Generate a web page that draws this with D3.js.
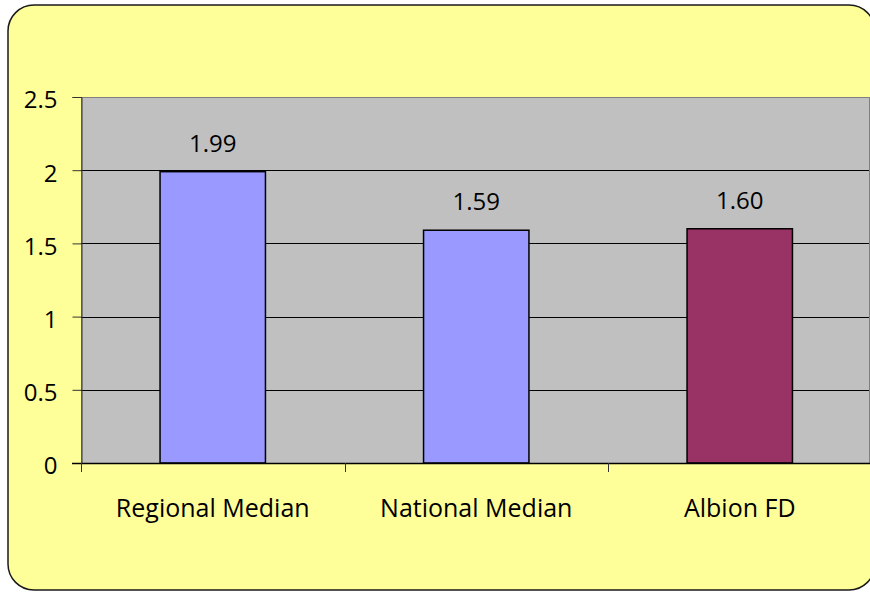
<!DOCTYPE html>
<html>
<head>
<meta charset="utf-8">
<script src="https://cdn.jsdelivr.net/npm/d3@7"></script>
<style>
  html, body { margin: 0; padding: 0; background: #ffffff; }
  svg { display: block; }
  text { font-family: "Open Sans", Lato, sans-serif; fill: #000; }
</style>
</head>
<body>
<svg id="chart" width="870" height="592"></svg>
<script>
// Chart data
const categories = ["Regional Median", "National Median", "Albion FD"];
const values = [1.99, 1.59, 1.60];
const valueLabels = ["1.99", "1.59", "1.60"];
const barColors = ["#9999FF", "#9999FF", "#993366"];
const yTicks = [0, 0.5, 1, 1.5, 2, 2.5];

const svg = d3.select("#chart");

// Rounded chart frame
svg.append("rect")
  .attr("x", 8).attr("y", 5)
  .attr("width", 867).attr("height", 585)
  .attr("rx", 26).attr("ry", 26)
  .attr("fill", "#FFFF99")
  .attr("stroke", "#1a1a1a")
  .attr("stroke-width", 1.5);

const plot = { left: 81, right: 869, top: 97, bottom: 463 };
const bandStep = 263.5;

const x = d3.scaleBand()
  .domain(categories)
  .range([plot.left, plot.left + categories.length * bandStep])
  .paddingInner(0.6)
  .paddingOuter(0.3);

const y = d3.scaleLinear()
  .domain([0, 2.5])
  .range([plot.bottom, plot.top]);

// Plot area
svg.append("rect")
  .attr("x", plot.left + 0.5).attr("y", plot.top + 0.5)
  .attr("width", plot.right - plot.left)
  .attr("height", plot.bottom - plot.top)
  .attr("fill", "#C0C0C0")
  .attr("stroke", "#808080")
  .attr("stroke-width", 1);

// Gridlines
svg.append("g")
  .selectAll("line")
  .data(yTicks.filter(t => t > 0 && t < 2.5))
  .join("line")
  .attr("x1", plot.left).attr("x2", plot.right)
  .attr("y1", d => Math.round(y(d)) + 0.5)
  .attr("y2", d => Math.round(y(d)) + 0.5)
  .attr("stroke", "#000")
  .attr("stroke-width", 1);

// Bars
svg.append("g")
  .selectAll("rect")
  .data(categories)
  .join("rect")
  .attr("x", d => x(d))
  .attr("y", (d, i) => y(values[i]))
  .attr("width", x.bandwidth())
  .attr("height", (d, i) => y(0) - y(values[i]))
  .attr("fill", (d, i) => barColors[i])
  .attr("stroke", "#000")
  .attr("stroke-width", 1.5);

// Value labels
svg.append("g")
  .selectAll("text")
  .data(categories)
  .join("text")
  .attr("x", d => x(d) + x.bandwidth() / 2)
  .attr("y", (d, i) => y(values[i]) - 20)
  .attr("text-anchor", "middle")
  .attr("font-size", 24)
  .text((d, i) => valueLabels[i]);

// Y axis
const yAxis = d3.axisLeft(y)
  .tickValues(yTicks)
  .tickFormat(d3.format("~g"))
  .tickSize(9)
  .tickPadding(15);
const gy = svg.append("g")
  .attr("transform", `translate(${plot.left + 0.5},0)`)
  .call(yAxis);
gy.select(".domain").attr("stroke", "#333").attr("stroke-width", 1);
gy.selectAll(".tick line").attr("stroke", "#333");
gy.selectAll(".tick text")
  .attr("font-size", 24)
  .attr("font-family", "'Open Sans', Lato, sans-serif")
  .attr("fill", "#000")
  .attr("dy", "0.45em");

// X axis baseline and category dividers
svg.append("line")
  .attr("x1", plot.left - 9).attr("x2", plot.right + 1)
  .attr("y1", plot.bottom + 0.5).attr("y2", plot.bottom + 0.5)
  .attr("stroke", "#000").attr("stroke-width", 1.5);

const step = x.step();
const dividers = categories.map(c => x(c) - x.paddingOuter() * step);
svg.append("g")
  .selectAll("line")
  .data(dividers)
  .join("line")
  .attr("x1", d => Math.round(d) + 0.5).attr("x2", d => Math.round(d) + 0.5)
  .attr("y1", plot.bottom).attr("y2", plot.bottom + 9)
  .attr("stroke", "#333").attr("stroke-width", 1);

// Category labels
svg.append("g")
  .selectAll("text")
  .data(categories)
  .join("text")
  .attr("x", d => x(d) + x.bandwidth() / 2)
  .attr("y", 517)
  .attr("text-anchor", "middle")
  .attr("font-size", 25)
  .text(d => d);
</script>
</body>
</html>
